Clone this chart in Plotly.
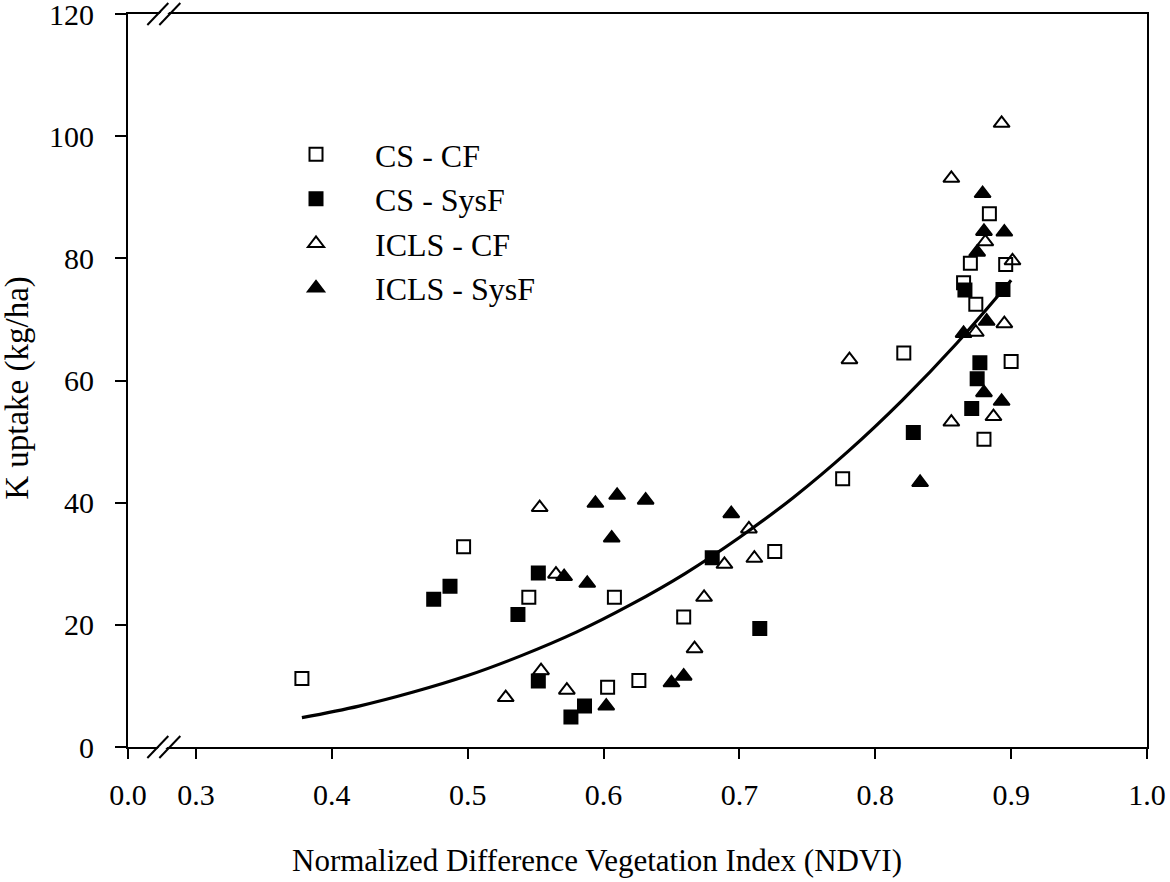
import plotly.graph_objects as go

# NDVI vs K uptake, four treatment groups
cs_cf_x = [0.378, 0.497, 0.545, 0.608, 0.603, 0.626, 0.659, 0.726, 0.776, 0.821,
           0.865, 0.870, 0.874, 0.884, 0.896, 0.900, 0.880]
cs_cf_y = [11.2, 32.8, 24.5, 24.5, 9.8, 10.9, 21.3, 32.0, 43.9, 64.5,
           76.0, 79.2, 72.5, 87.3, 79.0, 63.1, 50.4]

cs_sysf_x = [0.475, 0.487, 0.537, 0.552, 0.552, 0.576, 0.586, 0.680, 0.715, 0.828,
             0.866, 0.894, 0.877, 0.875, 0.871]
cs_sysf_y = [24.2, 26.3, 21.7, 28.5, 10.8, 4.9, 6.7, 31.0, 19.4, 51.5,
             74.8, 74.9, 62.9, 60.3, 55.4]

icls_cf_x = [0.528, 0.553, 0.554, 0.565, 0.573, 0.667, 0.674, 0.689, 0.707, 0.711,
             0.781, 0.856, 0.856, 0.874, 0.881, 0.887, 0.893, 0.895, 0.901]
icls_cf_y = [8.1, 39.2, 12.5, 28.3, 9.3, 16.1, 24.5, 29.9, 35.7, 30.9,
             63.4, 53.2, 93.1, 67.9, 82.7, 54.1, 102.1, 69.3, 79.6]

icls_sysf_x = [0.571, 0.588, 0.594, 0.610, 0.631, 0.606, 0.602, 0.650, 0.659, 0.694,
               0.833, 0.865, 0.882, 0.880, 0.893, 0.879, 0.880, 0.895, 0.875]
icls_sysf_y = [27.9, 26.8, 39.9, 41.2, 40.4, 34.2, 6.7, 10.5, 11.6, 38.2,
               43.3, 67.7, 69.7, 58.0, 56.6, 90.6, 84.4, 84.3, 81.0]

# fitted trend line
fit_x = [0.378, 0.42, 0.46, 0.50, 0.54, 0.58, 0.62, 0.66, 0.70, 0.74, 0.78, 0.82, 0.86, 0.90]
fit_y = [4.8, 6.7, 9.0, 11.7, 15.0, 18.8, 23.3, 28.4, 34.3, 40.9, 48.4, 56.8, 66.1, 76.4]

x_tickvals = [0.25, 0.3, 0.4, 0.5, 0.6, 0.7, 0.8, 0.9, 1.0]
x_ticktext = ["0.0", "0.3", "0.4", "0.5", "0.6", "0.7", "0.8", "0.9", "1.0"]
y_tickvals = [0, 20, 40, 60, 80, 100, 120]

FONT = "Liberation Serif, Times New Roman, serif"

fig = go.Figure()

fig.add_trace(go.Scatter(x=fit_x, y=fit_y, mode="lines", line_shape="spline",
                         line=dict(color="black", width=3.2), showlegend=False,
                         hoverinfo="skip"))

series = [
    ("CS - CF", cs_cf_x, cs_cf_y, "square-open", 13),
    ("CS - SysF", cs_sysf_x, cs_sysf_y, "square", 13),
    ("ICLS - CF", icls_cf_x, icls_cf_y, "triangle-up-open", 14),
    ("ICLS - SysF", icls_sysf_x, icls_sysf_y, "triangle-up", 14),
]
for name, xs, ys, sym, sz in series:
    fig.add_trace(go.Scatter(
        x=xs, y=ys, mode="markers", name=name,
        marker=dict(symbol=sym, size=sz, color="black",
                    line=dict(color="black", width=2)),
    ))

# axis break marks ("//") on bottom and top of the x axis
brk_x = 0.276
for yy in (0, 1):
    fig.add_shape(type="path", xref="x", yref="paper", xsizemode="pixel",
                  ysizemode="pixel", xanchor=brk_x, yanchor=yy,
                  path="M -14,-10 L 7,11 L 15,11 L -6,-10 Z",
                  fillcolor="white", line=dict(width=0), layer="above")
    for dx in (-5, 7):
        fig.add_shape(type="line", xref="x", yref="paper", xsizemode="pixel",
                      ysizemode="pixel", xanchor=brk_x, yanchor=yy,
                      x0=dx - 11, y0=-11, x1=dx + 10, y1=11,
                      line=dict(color="black", width=2), layer="above")

fig.add_annotation(text="Normalized Difference Vegetation Index (NDVI)",
                   xref="paper", yref="paper", x=(597 - 128) / 1019, y=-0.155,
                   xanchor="center", yanchor="middle", showarrow=False,
                   font=dict(family=FONT, size=31, color="black"))
fig.add_annotation(text="K uptake (kg/ha)", textangle=-90,
                   xref="paper", yref="paper", x=-0.108, y=0.49,
                   xanchor="center", yanchor="middle", showarrow=False,
                   font=dict(family=FONT, size=33, color="black"))

fig.update_layout(
    width=1170, height=882,
    margin=dict(l=128, r=23, t=14, b=135),
    paper_bgcolor="white", plot_bgcolor="white",
    font=dict(family=FONT, size=30, color="black"),
    legend=dict(x=0.1266, y=0.846, xanchor="left", yanchor="top",
                bgcolor="rgba(0,0,0,0)", font=dict(size=32), itemwidth=108,
                tracegroupgap=0),
)
fig.update_xaxes(range=[0.25, 1.0], tickvals=x_tickvals, ticktext=x_ticktext,
                 ticks="outside", ticklen=10, tickwidth=2, tickcolor="black",
                 ticklabelstandoff=10, ticklabeloverflow="allow",
                 showline=True, linewidth=2, linecolor="black", mirror=True,
                 showgrid=False, zeroline=False, automargin=False)
fig.update_yaxes(range=[0, 120], tickvals=y_tickvals,
                 ticks="outside", ticklen=11, tickwidth=2, tickcolor="black",
                 ticklabelstandoff=15, ticklabeloverflow="allow",
                 showline=True, linewidth=2, linecolor="black", mirror=True,
                 showgrid=False, zeroline=False, automargin=False)

# page body has a default 8px margin; drop it so the figure fills the window
fig.write_html("out.html", config={"displayModeBar": False},
               post_script="document.body.style.margin='0';")
